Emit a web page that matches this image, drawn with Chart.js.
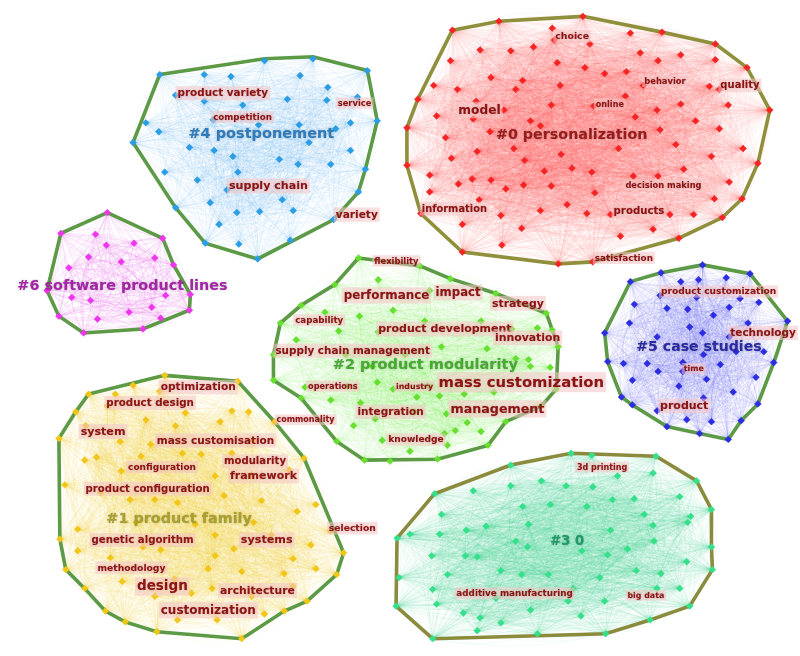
<!DOCTYPE html>
<html>
<head>
<meta charset="utf-8">
<title>Keyword co-occurrence clusters</title>
<script src="https://cdn.jsdelivr.net/npm/chart.js@4.4.1/dist/chart.umd.min.js"></script>
<style>
  html, body { margin: 0; padding: 0; background: #ffffff; }
  #wrap { width: 800px; height: 656px; }
</style>
</head>
<body>
<div id="wrap"><canvas id="net" width="800" height="656"></canvas></div>
<script>
// ---- cluster names ----
const clusterNames = ['#0 personalization', '#1 product family', '#2 product modularity',
  '#3 0', '#4 postponement', '#5 case studies', '#6 software product lines'];

// ---- node positions in layout space (x: 0..800, y: 0..656, y downward) ----
const nodes0 = [[453,26],[500,17],[585,12],[554,24],[556,36],[633,29],[665,28],[719,40],[719,56],[751,64],
  [774,107],[713,83],[723,86],[684,51],[643,49],[661,57],[629,68],[607,70],[587,64],[592,40],
  [559,59],[535,43],[512,47],[481,46],[451,57],[434,82],[458,86],[492,74],[524,77],[517,86],
  [562,82],[553,102],[596,103],[646,82],[628,93],[660,107],[684,101],[638,114],[732,102],[699,118],
  [723,126],[747,146],[762,161],[715,154],[733,180],[718,197],[746,197],[726,216],[682,237],[697,213],
  [673,213],[656,228],[687,167],[661,174],[636,174],[679,142],[663,127],[621,146],[594,170],[574,166],
  [563,152],[546,169],[526,158],[515,146],[542,123],[532,118],[491,129],[474,116],[437,113],[418,96],
  [407,125],[407,163],[446,135],[478,149],[452,156],[430,173],[430,190],[459,182],[473,177],[492,178],
  [507,187],[525,183],[553,184],[480,198],[421,212],[463,223],[502,214],[542,209],[569,203],[523,227],
  [463,251],[503,244],[560,263],[597,191],[589,212],[623,235],[595,261],[613,213],[477,98],[505,107]];
const nodes1 = [[162,376],[236,382],[130,386],[112,395],[85,395],[157,392],[72,413],[104,407],[183,414],[230,412],
  [247,413],[143,421],[173,427],[218,423],[82,427],[55,440],[117,443],[148,446],[252,442],[273,423],
  [81,462],[93,459],[138,458],[180,455],[199,456],[230,455],[303,460],[118,473],[213,478],[250,477],
  [288,472],[61,487],[97,495],[222,498],[152,502],[175,505],[127,502],[260,503],[315,507],[296,514],
  [133,525],[193,527],[252,525],[74,532],[213,538],[270,538],[330,534],[56,542],[140,550],[158,553],
  [232,552],[292,562],[310,548],[74,554],[107,561],[213,559],[343,556],[62,573],[119,585],[172,583],
  [206,572],[240,575],[283,577],[315,572],[336,578],[81,592],[152,600],[189,597],[210,592],[250,600],
  [292,590],[306,605],[102,615],[122,626],[175,624],[215,624],[263,618],[283,615],[154,636],[240,643]];
const nodes2 = [[358,257],[420,265],[451,278],[497,293],[548,313],[554,330],[560,347],[552,368],[532,367],[530,360],
  [558,390],[543,407],[507,423],[489,447],[438,461],[390,463],[364,462],[336,443],[300,399],[272,381],
  [272,355],[279,323],[300,305],[334,284],[378,279],[324,312],[359,316],[393,310],[338,331],[295,340],
  [378,332],[425,321],[442,347],[488,349],[482,321],[513,329],[539,328],[517,359],[430,290],[345,355],
  [405,355],[372,367],[347,387],[304,388],[330,401],[377,383],[393,390],[417,398],[440,397],[465,395],
  [495,393],[360,404],[375,420],[415,413],[447,415],[468,424],[445,435],[456,432],[482,433],[410,453],
  [448,447],[382,442],[353,427],[428,387]];
const nodes3 = [[512,467],[573,455],[594,457],[659,458],[656,475],[620,478],[700,483],[715,512],[715,550],[716,573],
  [693,610],[653,624],[608,638],[539,638],[478,635],[433,643],[396,610],[399,581],[397,541],[435,496],
  [474,493],[512,488],[543,483],[568,488],[595,489],[637,501],[683,499],[615,502],[552,507],[589,509],
  [524,509],[442,517],[647,517],[694,519],[530,527],[487,529],[410,537],[440,537],[467,533],[691,525],
  [656,528],[613,533],[517,544],[657,544],[529,550],[584,554],[630,552],[690,565],[432,559],[466,559],
  [478,560],[610,558],[502,574],[523,578],[550,578],[448,578],[602,581],[639,574],[664,577],[433,593],
  [575,592],[683,592],[660,592],[497,602],[532,614],[570,605],[607,605],[437,608],[464,617],[481,622],
  [502,627],[583,620]];
const nodes4 = [[157,71],[202,71],[229,73],[263,57],[312,55],[299,72],[367,67],[327,84],[286,96],[241,102],
  [202,98],[173,92],[357,94],[326,97],[377,118],[350,120],[335,126],[308,140],[298,122],[257,122],
  [211,117],[143,120],[156,129],[130,140],[187,145],[212,148],[231,154],[278,157],[297,162],[330,162],
  [350,148],[365,167],[162,170],[195,178],[236,170],[225,188],[358,190],[208,201],[281,198],[173,206],
  [235,211],[258,210],[292,209],[333,218],[217,223],[203,242],[237,243],[289,239],[256,258]];
const nodes5 = [[706,264],[754,273],[664,272],[633,281],[684,281],[702,279],[730,277],[663,295],[700,297],[744,298],
  [763,302],[637,304],[670,308],[691,309],[733,307],[717,315],[792,321],[632,323],[693,327],[752,323],
  [607,333],[660,337],[706,333],[733,337],[768,352],[740,352],[707,355],[610,362],[626,364],[650,364],
  [686,363],[724,365],[778,363],[661,372],[686,372],[635,381],[710,380],[760,378],[682,387],[737,393],
  [624,398],[707,399],[635,406],[762,405],[660,412],[690,421],[715,423],[745,422],[670,428],[703,435],
  [732,441]];
const nodes6 = [[104,211],[57,232],[92,233],[160,237],[131,242],[103,244],[85,256],[118,261],[152,257],[171,264],
  [65,267],[43,290],[163,295],[188,294],[68,297],[87,300],[149,307],[126,312],[187,310],[55,316],
  [94,319],[158,318],[140,329],[80,333]];

// ---- convex outlines of each cluster ----
const hull0 = [[453,26],[500,17],[585,12],[665,28],[719,40],[751,64],[774,107],[762,161],[746,197],[726,216],
  [682,237],[595,261],[560,263],[463,251],[421,212],[407,163],[407,125],[418,96],[453,26]];
const hull1 = [[162,376],[236,382],[273,423],[303,460],[343,556],[336,578],[306,605],[283,615],[240,643],[154,636],
  [122,626],[102,615],[81,592],[62,573],[56,542],[55,440],[72,413],[85,395],[162,376]];
const hull2 = [[358,257],[420,265],[451,278],[497,293],[548,313],[560,347],[558,390],[543,407],[507,423],[489,447],
  [438,461],[364,462],[336,443],[300,399],[272,381],[272,355],[279,323],[300,305],[334,284],[358,257]];
const hull3 = [[435,496],[512,467],[573,455],[659,458],[700,483],[715,512],[715,550],[716,573],[693,610],[653,624],
  [608,638],[539,640],[433,643],[396,610],[397,541],[435,496]];
const hull4 = [[157,71],[263,55],[312,53],[367,67],[377,118],[365,167],[358,190],[333,218],[256,258],[203,242],
  [173,206],[130,140],[157,71]];
const hull5 = [[706,264],[754,273],[792,321],[778,363],[762,405],[745,422],[732,441],[703,435],[670,428],[635,406],
  [624,398],[610,362],[607,333],[633,281],[664,272],[706,264]];
const hull6 = [[104,211],[160,237],[171,264],[188,294],[187,310],[140,329],[80,333],[55,316],[43,290],[57,232],[104,211]];

// ---- keyword labels: [text, x, y] anchored at their node ----
const keywords0 = [['choice',557,32],['behavior',647,78],['quality',724,82],['model',459,107],['online',598,101],
  ['decision making',628,183],['information',422,207],['products',616,209],['satisfaction',597,257]];
const keywords1 = [['optimization',158,388],['product design',103,404],['system',77,433],['mass customisation',154,442],
  ['configuration',125,469],['modularity',222,463],['framework',228,478],['product configuration',82,491],
  ['selection',328,531],['genetic algorithm',88,543],['systems',239,543],['methodology',94,571],
  ['design',134,590],['architecture',218,594],['customization',158,614]];
const keywords2 = [['flexibility',374,260],['performance',343,295],['impact',436,292],['strategy',493,303],
  ['capability',294,320],['product development',378,329],['innovation',496,338],['supply chain management',274,351],
  ['operations',307,387],['industry',396,387],['mass customization',439,383],['integration',357,413],
  ['management',451,410],['commonality',275,421],['knowledge',388,441]];
const keywords3 = [['3d printing',579,469],['additive manufacturing',457,597],['big data',630,599]];
const keywords4 = [['product variety',175,90],['competition',211,114],['service',337,100],['supply chain',227,184],['variety',335,213]];
const keywords5 = [['product customization',664,291],['technology',734,333],['time',687,369],['product',663,407]];
const keywords6 = [];

// ---- cluster label anchors: [x, y] ----
const clusterLabelPos = [[497,132],[103,521],[332,365],[552,544],[186,131],[639,347],[13,285]];

// ---- styling ----
const nodeColors = ['#f42424', '#f2c619', '#66df2e', '#34e08a', '#2b9de4', '#2c2ce0', '#ec36ec'];
const edgeColors = ['rgba(244,80,80,', 'rgba(245,205,50,', 'rgba(110,225,70,', 'rgba(60,215,140,',
  'rgba(80,165,235,', 'rgba(110,110,235,', 'rgba(232,100,232,'];
const edgeAlpha = [0.05, 0.07, 0.06, 0.075, 0.07, 0.09, 0.16];
const hullColors = ['#8f8f3c', '#5c9a45', '#5c9a45', '#8b8b3e', '#5c9a45', '#5c9a45', '#5c9a45'];
const clusterLabelColors = ['#9b1b1b', '#a8a02a', '#47aa30', '#1f9a68', '#2d7cbd', '#2a2aa5', '#a524a8'];
const clusterLabelSizes = [14.3, 14.4, 14.5, 13.2, 14.5, 14.1, 14.4];
const keywordSizes = {
  'choice': 9.4, 'behavior': 8.4, 'quality': 10, 'model': 12.2, 'online': 8.1, 'decision making': 8.3,
  'information': 9.9, 'products': 10.2, 'satisfaction': 8.8,
  'optimization': 10.6, 'product design': 10.3, 'system': 11.1, 'mass customisation': 10.5, 'configuration': 9,
  'modularity': 10.1, 'framework': 11, 'product configuration': 10.1, 'selection': 9.2, 'genetic algorithm': 10.2,
  'systems': 11.2, 'methodology': 9.2, 'design': 13.5, 'architecture': 10.8, 'customization': 12,
  'flexibility': 8.4, 'performance': 11.9, 'impact': 11.7, 'strategy': 10.9, 'capability': 8.7,
  'product development': 11, 'innovation': 10.9, 'supply chain management': 10.4, 'operations': 8.2,
  'industry': 7.9, 'mass customization': 14.8, 'integration': 10.5, 'management': 12.7, 'commonality': 8,
  'knowledge': 9.1,
  '3d printing': 8, 'additive manufacturing': 8.8, 'big data': 7.9,
  'product variety': 10.4, 'competition': 8.7, 'service': 8.4, 'supply chain': 11.1, 'variety': 10.6,
  'product customization': 9.1, 'technology': 10.5, 'time': 7.9, 'product': 11
};

const allNodes = [nodes0, nodes1, nodes2, nodes3, nodes4, nodes5, nodes6];
const allHulls = [hull0, hull1, hull2, hull3, hull4, hull5, hull6];
const allKeywords = [keywords0, keywords1, keywords2, keywords3, keywords4, keywords5, keywords6];
const FONT = '"DejaVu Sans", Verdana, sans-serif';

const toXY = arr => arr.map(p => ({ x: p[0], y: p[1] }));

const datasets = [];
allNodes.forEach((nodes, c) => {
  datasets.push({
    label: clusterNames[c] + ' nodes',
    data: toXY(nodes),
    pointStyle: 'rectRot',
    pointRadius: 3.4,
    pointBackgroundColor: nodeColors[c],
    pointBorderColor: nodeColors[c],
    pointBorderWidth: 0.5,
    showLine: false,
    order: 1
  });
});
allHulls.forEach((hull, c) => {
  datasets.push({
    label: clusterNames[c] + ' outline',
    data: toXY(hull),
    showLine: true,
    borderColor: hullColors[c],
    borderWidth: 3.6,
    pointRadius: 0,
    fill: false,
    tension: 0,
    order: 2
  });
});

// co-occurrence links: every pair of nodes inside a cluster, drawn as soft arcs
const linkPlugin = {
  id: 'links',
  beforeDatasetsDraw(chart) {
    const ctx = chart.ctx, xs = chart.scales.x, ys = chart.scales.y;
    ctx.save();
    ctx.lineWidth = 0.85;
    allNodes.forEach((nodes, c) => {
      const pts = nodes.map(p => [xs.getPixelForValue(p[0]), ys.getPixelForValue(p[1])]);
      ctx.strokeStyle = edgeColors[c] + edgeAlpha[c] + ')';
      for (let i = 0; i < pts.length; i++) {
        for (let j = i + 1; j < pts.length; j++) {
          const a = pts[i], b = pts[j];
          const mx = (a[0] + b[0]) / 2, my = (a[1] + b[1]) / 2;
          const dx = b[0] - a[0], dy = b[1] - a[1];
          const k = ((i + j) % 2 ? 0.14 : -0.14);
          ctx.beginPath();
          ctx.moveTo(a[0], a[1]);
          ctx.quadraticCurveTo(mx - dy * k, my + dx * k, b[0], b[1]);
          ctx.stroke();
        }
      }
    });
    ctx.restore();
  }
};

// keyword and cluster labels
const labelPlugin = {
  id: 'labels',
  afterDatasetsDraw(chart) {
    const ctx = chart.ctx, xs = chart.scales.x, ys = chart.scales.y;
    ctx.save();
    ctx.textBaseline = 'middle';
    ctx.textAlign = 'left';
    allKeywords.forEach(list => {
      list.forEach(([text, x, y]) => {
        const size = keywordSizes[text] || 9;
        const px = xs.getPixelForValue(x), py = ys.getPixelForValue(y);
        ctx.font = 'bold ' + size + 'px ' + FONT;
        const w = ctx.measureText(text).width;
        ctx.shadowColor = 'transparent';
        ctx.fillStyle = 'rgba(244,196,196,0.55)';
        ctx.fillRect(px - 2, py - size * 0.68, w + 4, size * 1.36);
        ctx.shadowColor = 'rgba(120,20,20,0.35)';
        ctx.shadowBlur = 1.5;
        ctx.fillStyle = '#8c1414';
        ctx.fillText(text, px, py + 0.5);
      });
    });
    clusterNames.forEach((name, c) => {
      const [x, y] = clusterLabelPos[c];
      const px = xs.getPixelForValue(x), py = ys.getPixelForValue(y);
      ctx.font = 'bold ' + clusterLabelSizes[c] + 'px ' + FONT;
      ctx.shadowColor = 'rgba(0,0,0,0.3)';
      ctx.shadowBlur = 2;
      ctx.fillStyle = clusterLabelColors[c];
      ctx.fillText(name, px, py + 0.5);
    });
    ctx.restore();
  }
};

new Chart(document.getElementById('net'), {
  type: 'scatter',
  data: { datasets },
  options: {
    responsive: false,
    animation: false,
    layout: { padding: 0 },
    plugins: { legend: { display: false }, tooltip: { enabled: false } },
    scales: {
      x: { type: 'linear', min: 0, max: 800, display: false },
      y: { type: 'linear', min: 0, max: 656, reverse: true, display: false }
    }
  },
  plugins: [linkPlugin, labelPlugin]
});
</script>
</body>
</html>
